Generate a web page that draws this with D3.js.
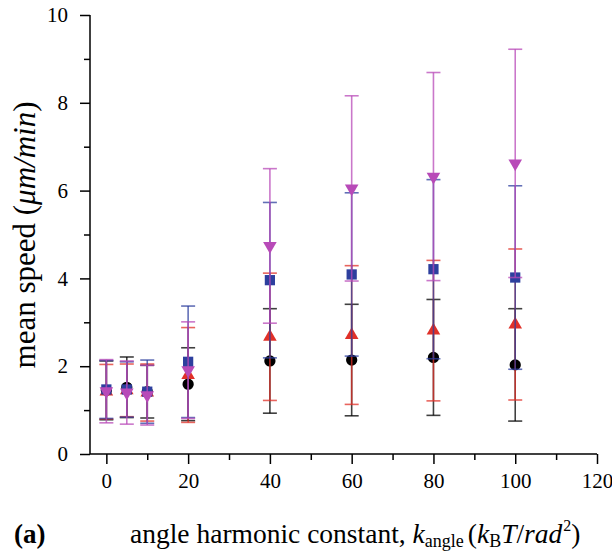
<!DOCTYPE html>
<html><head><meta charset="utf-8">
<script src="https://cdn.jsdelivr.net/npm/d3@7"></script>
<style>
html,body{margin:0;padding:0;background:#fff;}
svg{display:block;}
svg text{font-family:"Liberation Serif","DejaVu Serif","Times New Roman",Times,serif !important;fill:#000;}
</style></head>
<body>
<svg id="chart" width="612" height="553"></svg>
<script>
// ---- data ----
const xValues = [0, 5, 10, 20, 40, 60, 80, 100];
const blackMean = [1.45, 1.52, 1.42, 1.59, 2.12, 2.14, 2.20, 2.03];
const blackErr  = [0.67, 0.69, 0.60, 0.83, 1.19, 1.27, 1.32, 1.28];
const redMean   = [1.42, 1.45, 1.40, 1.80, 2.67, 2.71, 2.81, 2.95];
const redErr    = [0.62, 0.60, 0.65, 1.08, 1.45, 1.58, 1.60, 1.72];
const blueMean  = [1.47, 1.47, 1.42, 2.10, 3.96, 4.09, 4.21, 4.02];
const blueErr   = [0.66, 0.63, 0.72, 1.27, 1.77, 1.86, 2.04, 2.09];
const magMean   = [1.43, 1.40, 1.34, 1.91, 4.74, 6.05, 6.32, 6.62];
const magErr    = [0.72, 0.72, 0.68, 1.10, 1.76, 2.11, 2.37, 2.60];
const xTicks = [0, 20, 40, 60, 80, 100, 120];
const xMinorTicks = [10, 30, 50, 70, 90, 110];
const yTicks = [0, 2, 4, 6, 8, 10];
const yMinorTicks = [1, 3, 5, 7, 9];

const series = [
  {name:"black", mean:blackMean, err:blackErr, color:"#000000", shape:"circle"},
  {name:"red", mean:redMean, err:redErr, color:"#e03028", shape:"triUp"},
  {name:"blue", mean:blueMean, err:blueErr, color:"#2d3f9e", shape:"square"},
  {name:"magenta", mean:magMean, err:magErr, color:"#b84ab8", shape:"triDown"}
];

const FONT = '"Liberation Serif","DejaVu Serif","Times New Roman",Times,serif';
const svg = d3.select("#chart");
const x = d3.scaleLinear().domain([-4, 120]).range([90, 597]);
const y = d3.scaleLinear().domain([0, 10]).range([454, 15]);

// axes
const gx = svg.append("g").attr("transform", `translate(0,${y(0)})`);
gx.call(d3.axisBottom(x).tickValues(xTicks).tickSize(10).tickPadding(9).tickFormat(d3.format("d")));
gx.append("g").call(d3.axisBottom(x).tickValues(xMinorTicks).tickSize(6).tickFormat(""));
gx.selectAll(".domain").remove();
gx.append("line").attr("x1", x(-4)).attr("x2", x(120)).attr("stroke", "#000").attr("stroke-width", 1.5);
gx.selectAll(".tick line").attr("stroke", "#000").attr("stroke-width", 1.5);
gx.attr("font-family", FONT);
gx.selectAll(".tick text").attr("font-size", 21).attr("font-family", FONT);

const gy = svg.append("g").attr("transform", `translate(${x(-4)},0)`);
gy.call(d3.axisLeft(y).tickValues(yTicks).tickSize(10).tickPadding(12).tickFormat(d3.format("d")));
gy.append("g").call(d3.axisLeft(y).tickValues(yMinorTicks).tickSize(6).tickFormat(""));
gy.selectAll(".domain").remove();
gy.append("line").attr("y1", y(0)).attr("y2", y(10)).attr("stroke", "#000").attr("stroke-width", 1.5);
gy.selectAll(".tick line").attr("stroke", "#000").attr("stroke-width", 1.5);
gy.attr("font-family", FONT);
gy.selectAll(".tick text").attr("font-size", 21).attr("font-family", FONT);

// series
const capW = 7;
const shapes = {
  circle: d3.symbol().type(d3.symbolCircle).size(100),
  square: d3.symbol().type(d3.symbolSquare).size(105),
  triUp: d3.symbol().type(d3.symbolTriangle).size(80),
  triDown: d3.symbol().type(d3.symbolTriangle).size(80)
};
series.forEach(s => {
  const g = svg.append("g");
  const pts = xValues.map((xv, i) => ({x: xv, m: s.mean[i], e: s.err[i]}));
  const eb = g.append("g").attr("stroke", s.color).attr("stroke-width", 1.6).attr("stroke-opacity", 0.75);
  eb.selectAll("line.v").data(pts).join("line").attr("class","v")
    .attr("x1", d => x(d.x)).attr("x2", d => x(d.x))
    .attr("y1", d => y(d.m + d.e)).attr("y2", d => y(d.m - d.e));
  eb.selectAll("line.t").data(pts).join("line").attr("class","t")
    .attr("x1", d => x(d.x) - capW).attr("x2", d => x(d.x) + capW)
    .attr("y1", d => y(d.m + d.e)).attr("y2", d => y(d.m + d.e));
  eb.selectAll("line.b").data(pts).join("line").attr("class","b")
    .attr("x1", d => x(d.x) - capW).attr("x2", d => x(d.x) + capW)
    .attr("y1", d => y(d.m - d.e)).attr("y2", d => y(d.m - d.e));
  g.selectAll("path").data(pts).join("path")
    .attr("d", shapes[s.shape])
    .attr("fill", s.color)
    .attr("transform", d => `translate(${x(d.x)},${y(d.m)})` + (s.shape === "triDown" ? " rotate(180)" : ""));
});

// axis titles
svg.append("text")
  .attr("transform", `translate(35,235) rotate(-90)`)
  .attr("text-anchor", "middle").attr("font-size", 31).attr("font-family", FONT)
  .html('mean speed (<tspan font-style="italic">μm/min</tspan>)');

const xt = svg.append("text").attr("x", 130).attr("y", 543).attr("font-size", 27.5).attr("font-family", FONT);
xt.append("tspan").text("angle harmonic constant, ");
xt.append("tspan").attr("font-style", "italic").text("k");
xt.append("tspan").attr("font-size", 18).attr("dy", 4).text("angle");
xt.append("tspan").attr("dy", -4).attr("dx", 4).text("(");
xt.append("tspan").attr("font-style", "italic").text("k");
xt.append("tspan").attr("font-size", 18).attr("dy", 4).text("B");
xt.append("tspan").attr("dy", -4).attr("font-style", "italic").text("T");
xt.append("tspan").text("/");
xt.append("tspan").attr("font-style", "italic").text("rad");
xt.append("tspan").attr("font-size", 16).attr("dy", -12).attr("dx", 1).text("2");
xt.append("tspan").attr("dy", 12).text(")");

svg.append("text").attr("x", 14).attr("y", 543).attr("font-size", 27).attr("font-weight", "bold").attr("font-family", FONT).text("(a)");
</script>
</body></html>
